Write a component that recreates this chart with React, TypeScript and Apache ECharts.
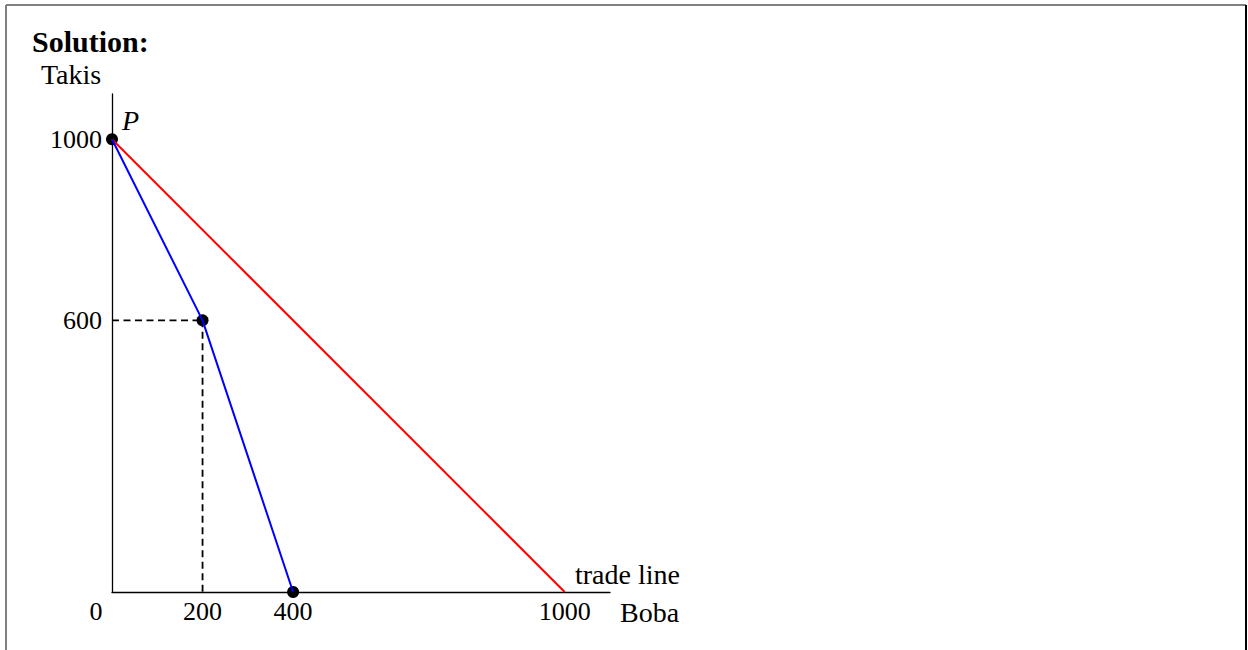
import React, { useEffect, useRef } from "react";
import * as echarts from "echarts";

const tradeLine: [number, number][] = [[0, 1000], [1000, 0]];
const ppfLine: [number, number][] = [[0, 1000], [200, 600], [400, 0]];
const dashH: [number, number][] = [[0, 600], [200, 600]];
const dashV: [number, number][] = [[200, 600], [200, 0]];
const points: [number, number][] = [[0, 1000], [200, 600], [400, 0]];
const xTicks = [0, 200, 400, 1000];
const yTicks = [600, 1000];

const FONT = "'Liberation Serif', 'DejaVu Serif', serif";

export default function App() {
  const ref = useRef<HTMLDivElement>(null);
  useEffect(() => {
    const chart = echarts.init(ref.current!, null, { renderer: "svg" });
    chart.setOption({
      animation: false,
      backgroundColor: "#fff",
      grid: { left: 112, top: 94, width: 498, height: 498 },
      xAxis: {
        type: "value",
        min: 0,
        max: 1100,
        splitLine: { show: false },
        axisTick: { show: false },
        axisLine: { lineStyle: { color: "#000", width: 1.3 } },
        axisLabel: {
          customValues: xTicks,
          margin: 6,
          color: "#000",
          fontFamily: FONT,
          fontSize: 26,
          formatter: (v: number) => (v === 0 ? "{z|0}" : String(v)),
          rich: { z: { fontFamily: FONT, fontSize: 26, color: "#000", padding: [0, 32, 0, 0] } },
        },
      },
      yAxis: {
        type: "value",
        min: 0,
        max: 1100,
        splitLine: { show: false },
        axisTick: { show: false },
        axisLine: { lineStyle: { color: "#000", width: 1.3 } },
        axisLabel: {
          customValues: yTicks,
          margin: 10,
          color: "#000",
          fontFamily: FONT,
          fontSize: 26,
          formatter: (v: number) => String(v),
        },
      },
      series: [
        { type: "line", data: dashH, symbol: "none", lineStyle: { color: "#000", width: 1.8, type: [7, 4.5] } },
        { type: "line", data: dashV, symbol: "none", lineStyle: { color: "#000", width: 1.8, type: [7, 4.5] } },
        { type: "line", data: tradeLine, symbol: "none", lineStyle: { color: "#ff0000", width: 2 } },
        { type: "line", data: ppfLine, symbol: "none", lineStyle: { color: "#0000ff", width: 2 } },
        { type: "scatter", data: points, symbolSize: 12, itemStyle: { color: "#000", opacity: 1 } },
      ],
      graphic: [
        { type: "line", shape: { x1: 6, y1: 5, x2: 1246, y2: 5 }, style: { stroke: "#808080", lineWidth: 2 } },
        { type: "line", shape: { x1: 6, y1: 5, x2: 6, y2: 650 }, style: { stroke: "#808080", lineWidth: 2 } },
        { type: "line", shape: { x1: 1246, y1: 5, x2: 1246, y2: 650 }, style: { stroke: "#000", lineWidth: 2 } },
        { type: "text", x: 32, y: 41, style: { text: "Solution:", font: `bold 30px ${FONT}`, fill: "#000", verticalAlign: "middle", align: "left" } },
        { type: "text", x: 71, y: 74, style: { text: "Takis", font: `28px ${FONT}`, fill: "#000", verticalAlign: "middle", align: "center" } },
        { type: "text", x: 122, y: 120, style: { text: "P", font: `italic 28px ${FONT}`, fill: "#000", verticalAlign: "middle", align: "left" } },
        { type: "text", x: 575, y: 574, style: { text: "trade line", font: `28px ${FONT}`, fill: "#000", verticalAlign: "middle", align: "left" } },
        { type: "text", x: 620, y: 612, style: { text: "Boba", font: `28px ${FONT}`, fill: "#000", verticalAlign: "middle", align: "left" } },
      ],
    });
    return () => chart.dispose();
  }, []);
  return <div ref={ref} style={{ position: "fixed", left: 0, top: 0, width: 1248, height: 650 }} />;
}
